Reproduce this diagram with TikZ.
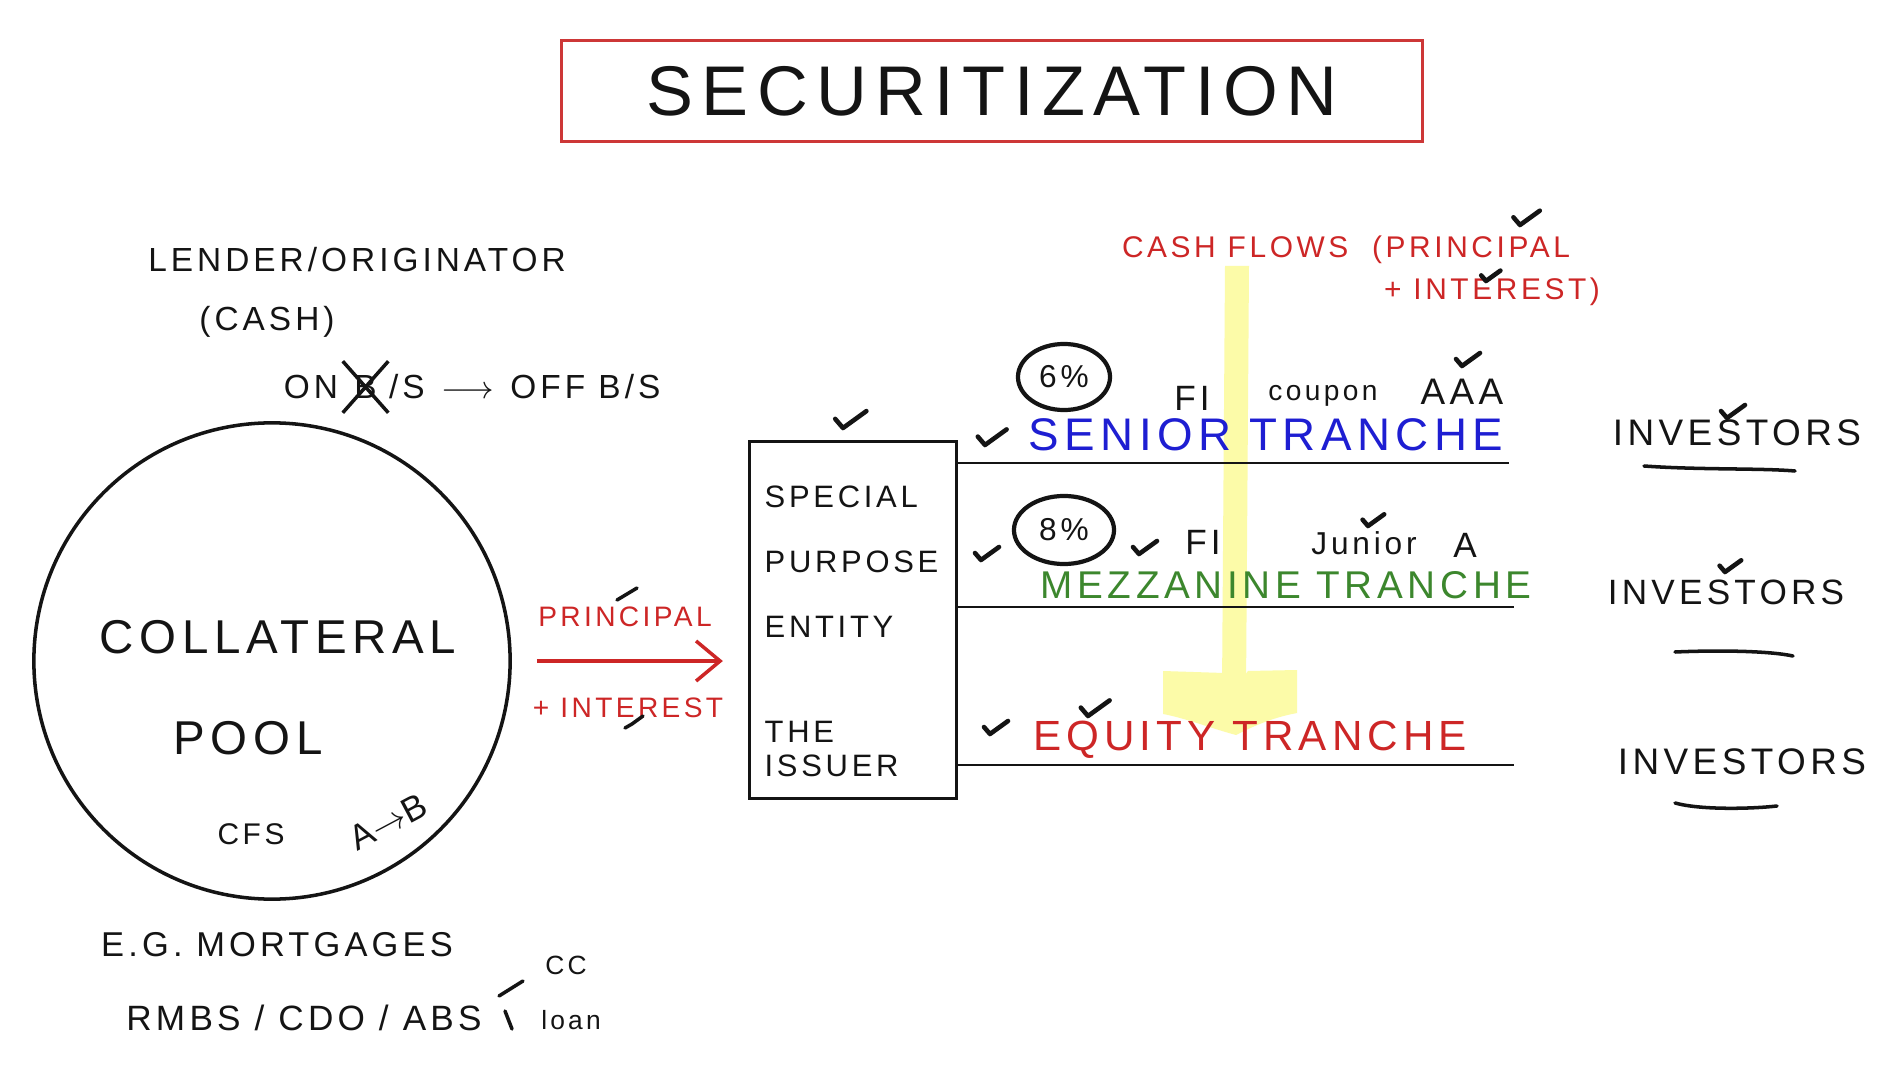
\documentclass[tikz,border=0pt]{standalone}
\usepackage{fontspec}
\usepackage{tikz}
\usetikzlibrary{arrows.meta,positioning,shapes.geometric,shapes.misc}
\newfontfamily\handfont[LetterSpace=12]{Liberation Sans}
\definecolor{inkblack}{RGB}{20,20,20}
\definecolor{inkred}{RGB}{205,38,38}
\definecolor{inkblue}{RGB}{30,30,210}
\definecolor{inkgreen}{RGB}{60,135,45}
\definecolor{boxred}{RGB}{205,55,55}
\definecolor{hilite}{RGB}{252,251,168}

\begin{document}
\begin{tikzpicture}[
  x=0.01cm, y=-0.01cm,
  hand/.style={font=\handfont\fontsize{#1}{#1}\selectfont, text=inkblack, inner sep=0pt},
  hand/.default=10,
  inkline/.style={draw=inkblack, line width=1pt, line cap=round},
  tline/.style={draw=inkblack, line width=0.8pt},
  ring/.style={ellipse, draw=inkblack, line width=1.2pt},
  flowarr/.style={-{Straight Barb[length=2.4mm,width=4mm]}, draw=inkred, line width=1pt},
  checkmark/.pic={\draw[inkblack, line width=1.3pt, line cap=round, line join=round]
    (-6,-7) -- (0,0) -- (18,-13);},
]
\fill[white] (0,0) rectangle (1896,1070);
\useasboundingbox (0,0) rectangle (1896,1070);

% highlighter arrow for the cash flows (drawn first, sits under the ink)
\fill[hilite] (1225,266) -- (1249,266) -- (1246,692) -- (1222,692) -- cycle;
\fill[hilite] (1163,671) -- (1224,673) -- (1235,688) -- (1248,671) -- (1297,670)
  -- (1297,713) .. controls (1270,718) and (1250,728) .. (1236,735)
  .. controls (1210,728) and (1185,718) .. (1163,714) -- cycle;

% title
\node[draw=boxred, line width=0.9pt, minimum width=8.6cm, minimum height=1.01cm,
  hand=20] (title) at (992,91) {SECURITIZATION};

% originator side
\node[hand=9.5] (lender) at (357,260) {LENDER/ORIGINATOR};
\node[hand=9.5] (cash) at (267,322) {(CASH)};
\node[hand=9.5] (on) at (311,387) {ON};
\node[hand=9.5, cross out, draw=inkblack, line width=1pt, minimum width=0.42cm,
  minimum height=0.48cm, right=0.04cm of on] (bcross) {B};
\node[hand=9.5, right=0cm of bcross] (offbs) {/S\enspace$\longrightarrow$\enspace OFF B/S};

% collateral pool
\node[circle, draw=inkblack, line width=1pt, minimum size=4.76cm] (pool) at (272,661) {};
\node[hand=13.5] (collat) at (278,637) {COLLATERAL};
\node[hand=13.5] (pooltxt) at (248,738) {POOL};
\node[hand=8.5] (cfs) at (251,834) {CFS};
\node[hand=10, rotate=28] (atob) at (388,822) {A$\rightarrow$B};

\node[hand=9.8] (eg) at (277,945) {E.G. MORTGAGES};
\node[hand=10] (rmbs) at (304,1018) {RMBS / CDO / ABS};
\node[hand=7.5] (cc) at (566,965) {CC};
\node[hand=7.5] (loan) at (571,1020) {loan};
\coordinate (fork) at (499,996);
\draw[inkline] (fork) -- (523,981);
\draw[inkline] (505,1011) -- (512,1029);

% principal + interest into the SPE
\node[hand=8, text=inkred] (princ) at (625,617) {PRINCIPAL};
\node[hand=8, text=inkred] (inter) at (628,708) {+ INTEREST};
\draw[inkline] (617,600) -- (637,588);
\draw[inkline] (625,728) -- (632,724) -- (643,716);

\node[draw=inkblack, line width=0.9pt, minimum width=2.07cm, minimum height=3.57cm] (spe) at (853,620) {};
\node[font=\handfont\fontsize{8.8}{18.5}\selectfont, text=inkblack, inner sep=0pt,
  align=left, anchor=north west] (spename) at (764,485) {SPECIAL\\PURPOSE\\ENTITY};
\node[font=\handfont\fontsize{8.8}{9.4}\selectfont, text=inkblack, inner sep=0pt,
  align=left, anchor=north west] (issuer) at (764,721) {THE\\ISSUER};

\draw[flowarr] ([xshift=0.25cm]pool.east) -- ([xshift=-0.25cm]pool.east -| spe.west);

% tranches
\coordinate (senend) at (1509,463);
\coordinate (mezend) at (1514,607);
\coordinate (equend) at (1514,765);
\draw[tline] (senend -| spe.east) -- (senend);
\draw[tline] (mezend -| spe.east) -- (mezend);
\draw[tline] (equend -| spe.east) -- (equend);

\node[hand=13, text=inkblue] (senior) at (1266,435) {SENIOR TRANCHE};
\node[hand=11, text=inkgreen] (mezz) at (1286,585) {MEZZANINE TRANCHE};
\node[hand=12, text=inkred] (equity) at (1250,740) {EQUITY TRANCHE};

\node[ring, hand=9, minimum width=0.92cm, minimum height=0.66cm] (six) at (1064,377) {6\%};
\node[hand=10] (fisen) at (1192,398) {FI};
\node[hand=8] (coupon) at (1323,396) {coupon};
\node[hand=10.5] (aaa) at (1462,392) {AAA};
\node[ring, hand=9, minimum width=1cm, minimum height=0.68cm] (eight) at (1064,530) {8\%};
\node[hand=10] (fimez) at (1203,542) {FI};
\node[hand=9] (junior) at (1364,543) {Junior};
\node[hand=10] (amez) at (1465,545) {A};

\node[hand=8.5, text=inkred] (cfone) at (1346,250) {CASH FLOWS \ (PRINCIPAL};
\node[hand=8.5, text=inkred] (cftwo) at (1492,292) {+ INTEREST)};

% investors
\node[hand=10.5] (invone) at (1737,433) {INVESTORS};
\node[hand=10] (invtwo) at (1726,592) {INVESTORS};
\node[hand=10.5] (invthree) at (1742,762) {INVESTORS};
\draw[inkline] (1644,466) .. controls (1700,470) and (1760,468) .. (1795,471);
\draw[inkline] (1675,652) .. controls (1720,650) and (1770,651) .. (1793,656);
\draw[inkline] (1675,803) .. controls (1700,810) and (1750,809) .. (1777,806);

% ticks
\pic[scale=1.3] at (843,428) {checkmark};
\pic[scale=1.2] at (985,445) {checkmark};
\pic at (981,560) {checkmark};
\pic at (1139,554) {checkmark};
\pic[scale=0.9] at (1368,526) {checkmark};
\pic at (1462,366) {checkmark};
\pic[scale=1.1] at (1520,225) {checkmark};
\pic[scale=0.8] at (1486,281) {checkmark};
\pic at (990,734) {checkmark};
\pic[scale=1.2] at (1088,716) {checkmark};
\pic at (1727,418) {checkmark};
\pic[scale=0.9] at (1725,572) {checkmark};
\end{tikzpicture}
\end{document}
